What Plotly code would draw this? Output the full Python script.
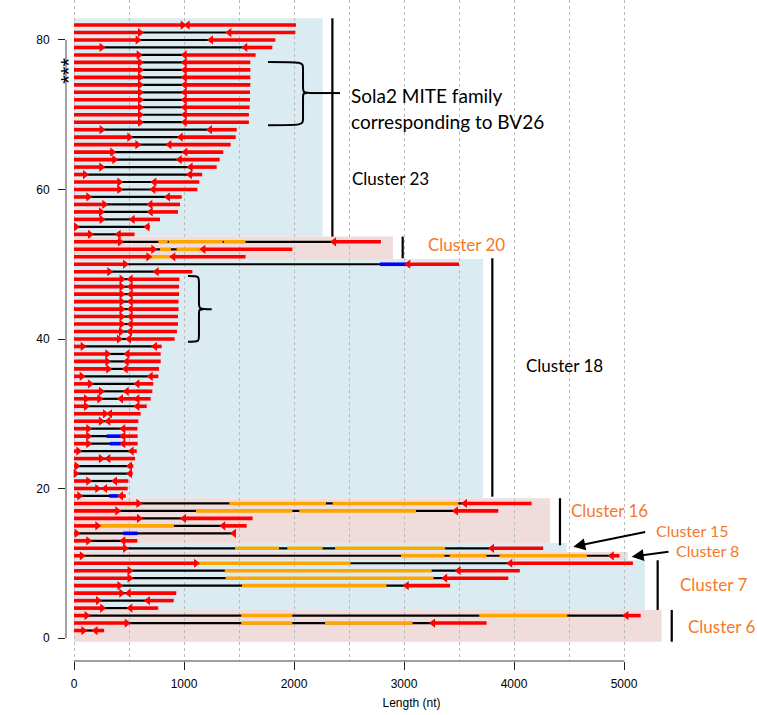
import plotly.graph_objects as go

# ---- element rows: (row, end of left TIR, start of right TIR, total length) ----
row_ids = [82, 81, 80, 79, 78, 77, 76, 75, 74, 73, 72, 71, 70, 69, 68, 67, 66, 65, 64, 63,
           62, 61, 60, 59, 58, 57, 56, 55, 54, 53, 52, 51, 50, 49, 48, 47, 46, 45, 44, 43,
           42, 41, 40, 39, 38, 37, 36, 35, 34, 33, 32, 31, 30, 29, 28, 27, 26, 25, 24, 23,
           22, 21, 20, 19, 18, 17, 16, 15, 14, 13, 12, 11, 10, 9, 8, 7, 6, 5, 4, 3, 2, 1]
tir_left_end = [988, 600, 579, 251, 588, 600, 600, 600, 600, 600, 600, 600, 600, 600, 251, 503, 576, 348, 367, 248,
                100, 412, 412, 130, 276, 245, 251, 18, 145, 418, 721, 676, 464, 321, 433, 433, 433, 433, 433, 433,
                433, 427, 409, 79, 303, 303, 312, 70, 145, 245, 230, 109, 282, 245, 130, 130, 130, 39, 245, 24,
                15, 130, 212, 48, 585, 394, 591, 212, 24, 130, 464, 71, 1109, 505, 505, 413, 430, 218, 256, 114, 479, 85]
tir_right_start = [1033, 1412, 1245, 1557, 1006, 1006, 1006, 1006, 1006, 1006, 1006, 1006, 1006, 1006, 1236, 970, 867, 1012, 961, 1060,
                   1054, 730, 721, 854, 694, 697, 533, 667, 406, 2364, 1176, 903, 3039, 751, 515, 515, 515, 515, 515, 515,
                   515, 509, 500, 736, 485, 479, 470, 697, 576, 479, 427, 576, 327, 312, 448, 448, 448, 524, 312, 509,
                   509, 373, 282, 427, 3554, 3472, 1000, 1357, 1454, 448, 3800, 4889, 3966, 3496, 3374, 3025, 497, 672, 512, 5022, 3264, 196]
element_length = [2018, 2012, 1830, 1803, 1651, 1603, 1603, 1603, 1603, 1600, 1600, 1597, 1590, 1590, 1479, 1470, 1424, 1357, 1324, 1297,
                  1165, 1139, 1121, 979, 964, 945, 782, 690, 551, 2790, 1985, 1560, 3500, 1076, 958, 955, 955, 950, 950, 945,
                  945, 936, 915, 797, 788, 788, 773, 767, 721, 712, 697, 661, 606, 585, 576, 579, 579, 570, 555, 539,
                  533, 494, 488, 470, 4160, 3857, 1624, 1570, 1470, 576, 4265, 4959, 5081, 4053, 3948, 3419, 930, 906, 765, 5152, 3751, 274]

# extra TIR-like arrowheads inside one element
extra_right_arrows = [(32, 109)]
extra_left_arrows = [(32, 576)]

# ---- internal coding segments: (row, start, end) ----
orange_segments = [(53, 767, 852), (53, 862, 1352), (53, 1362, 1560),
                   (52, 782, 882), (52, 933, 1200), (51, 691, 873),
                   (18, 1412, 2291), (18, 2351, 3494), (17, 1109, 1985), (17, 2048, 3109),
                   (15, 236, 909),
                   (12, 1464, 1864), (12, 1939, 2260), (12, 2373, 3374),
                   (11, 2973, 3367), (11, 3416, 3750), (11, 3869, 4663),
                   (10, 1109, 2513), (9, 1371, 3252), (8, 1378, 3269), (7, 1527, 2841),
                   (3, 1520, 1985), (3, 3684, 4484), (2, 1520, 1985), (2, 2282, 3078)]
blue_segments = [(50, 2782, 3039), (27, 297, 448), (26, 327, 427), (19, 321, 403), (14, 448, 576)]
faint_segments = [(33, 564, 670)]

# ---- cluster blocks: name, first row-edge, last row-edge, extent, label colour ----
cluster_names = ["Cluster 23", "Cluster 20", "Cluster 18", "Cluster 16", "Cluster 15", "Cluster 8", "Cluster 7", "Cluster 6"]
cluster_y0 = [53.7, 50.7, 18.7, 12.7, 11.5, 10.4, 3.75, -0.5]
cluster_y1 = [82.9, 53.7, 50.7, 18.7, 12.7, 11.5, 10.4, 3.75]
cluster_xmax = [2261, 2900, 3718, 4327, 4479, 5033, 5191, 5342]
cluster_fill = ["#DAEBF1", "#F1DCDC", "#DAEBF1", "#F1DCDC", "#DAEBF1", "#F1DCDC", "#DAEBF1", "#F1DCDC"]
cluster_bar_x = [2349, 2988, 3803, 4418, None, None, 5306, 5434]
cluster_bar_y0 = [53.7, 50.8, 18.9, 12.4, None, None, 3.75, -0.5]
cluster_bar_y1 = [82.9, 53.7, 50.8, 18.7, None, None, 10.4, 3.75]
label_x = [2518, 3209, 4100, 4509, 5282, 5464, 5500, 5573]
label_y = [61.5, 52.7, 36.4, 17.1, 14.35, 11.65, 7.2, 1.5]
label_size = [17, 17, 17, 17, 16, 16, 17, 17]
label_color = ["black", "#F5792A", "black", "#F5792A", "#F5792A", "#F5792A", "#F5792A", "#F5792A"]

x_major_ticks = [0, 1000, 2000, 3000, 4000, 5000]
x_minor_ticks = [500, 1500, 2500, 3500, 4500]
y_ticks = [0, 20, 40, 60, 80]

RED = "#FF0000"
BLACK = "#000000"
ORANGE = "#FFA500"
BLUE = "#0000FF"


def seg_xy(pairs):
    xs, ys = [], []
    for r, a, b in pairs:
        xs += [a, b, None]
        ys += [r, r, None]
    return xs, ys


red_pairs, black_pairs = [], []
for r, a, b, L in zip(row_ids, tir_left_end, tir_right_start, element_length):
    red_pairs.append((r, 0, a))
    black_pairs.append((r, a, b))
    red_pairs.append((r, b, L))

fig = go.Figure()

bx, by = seg_xy(black_pairs)
fig.add_trace(go.Scatter(x=bx, y=by, mode="lines", line=dict(color=BLACK, width=2.2),
                         hoverinfo="skip", showlegend=False))
ox, oy = seg_xy(orange_segments)
fig.add_trace(go.Scatter(x=ox, y=oy, mode="lines", line=dict(color=ORANGE, width=3.6),
                         hoverinfo="skip", showlegend=False))
ux, uy = seg_xy(blue_segments)
fig.add_trace(go.Scatter(x=ux, y=uy, mode="lines", line=dict(color=BLUE, width=3.6),
                         hoverinfo="skip", showlegend=False))
fx, fy = seg_xy(faint_segments)
fig.add_trace(go.Scatter(x=fx, y=fy, mode="lines", line=dict(color="rgba(190,90,200,0.45)", width=4),
                         hoverinfo="skip", showlegend=False))
rx, ry = seg_xy(red_pairs)
fig.add_trace(go.Scatter(x=rx, y=ry, mode="lines", line=dict(color=RED, width=3.6),
                         hoverinfo="skip", showlegend=False))

# TIR arrowheads
rax = list(tir_left_end) + [a for _, a in extra_right_arrows]
ray = list(row_ids) + [r for r, _ in extra_right_arrows]
fig.add_trace(go.Scatter(x=rax, y=ray, mode="markers",
                         marker=dict(symbol="triangle-right", size=8, color=RED, line=dict(width=0)),
                         hoverinfo="skip", showlegend=False))
lax = list(tir_right_start) + [a for _, a in extra_left_arrows]
lay = list(row_ids) + [r for r, _ in extra_left_arrows]
fig.add_trace(go.Scatter(x=lax, y=lay, mode="markers",
                         marker=dict(symbol="triangle-left", size=8, color=RED, line=dict(width=0)),
                         hoverinfo="skip", showlegend=False))

shapes = []
for y0, y1, xm, fill in zip(cluster_y0, cluster_y1, cluster_xmax, cluster_fill):
    shapes.append(dict(type="rect", xref="x", yref="y", x0=0, x1=xm, y0=y0, y1=y1,
                       fillcolor=fill, line=dict(width=0), layer="below"))
for bxv, y0, y1 in zip(cluster_bar_x, cluster_bar_y0, cluster_bar_y1):
    if bxv is None:
        continue
    shapes.append(dict(type="line", xref="x", yref="y", x0=bxv, x1=bxv, y0=y0, y1=y1,
                       line=dict(color="black", width=2.2)))


def brace(x0, xv, xt, yt, yb, ym, d):
    return (f"M {x0},{yt} C {xv},{yt} {xv},{yt} {xv},{yt - d} "
            f"L {xv},{ym + d} C {xv},{ym} {xv},{ym} {xt},{ym} "
            f"M {xv + (xt - xv) * 0.35},{ym} C {xv},{ym} {xv},{ym} {xv},{ym - d} "
            f"L {xv},{yb + d} C {xv},{yb} {xv},{yb} {x0},{yb}")


shapes.append(dict(type="path", xref="x", yref="y",
                   path=brace(1764, 2082, 2180, 77.06, 68.6, 72.9, 0.9),
                   line=dict(color="black", width=2)))
shapes.append(dict(type="line", xref="x", yref="y", x0=2150, x1=2418, y0=72.9, y1=72.9,
                   line=dict(color="black", width=2)))
shapes.append(dict(type="path", xref="x", yref="y",
                   path=brace(1036, 1136, 1252, 48.43, 39.64, 43.97, 0.9),
                   line=dict(color="black", width=2)))

# axis lines spanning only the labelled ranges
shapes.append(dict(type="line", xref="x", yref="paper", x0=x_major_ticks[0], x1=x_major_ticks[-1],
                   y0=0, y1=0, line=dict(color="#444444", width=1)))
shapes.append(dict(type="line", xref="paper", yref="y", x0=0, x1=0, y0=y_ticks[0], y1=y_ticks[-1],
                   line=dict(color="#444444", width=1)))

annotations = []
for name, lx, ly, ls, lc in zip(cluster_names, label_x, label_y, label_size, label_color):
    annotations.append(dict(x=lx, y=ly, xref="x", yref="y", text=name, showarrow=False,
                            xanchor="left", yanchor="middle", borderpad=0,
                            font=dict(family="Lato", size=ls, color=lc)))
annotations.append(dict(x=2500, y=72.64, xref="x", yref="y", text="Sola2 MITE family", showarrow=False,
                        xanchor="left", yanchor="middle", font=dict(family="Lato", size=19, color="black")))
annotations.append(dict(x=2500, y=69.07, xref="x", yref="y", text="corresponding to BV26", showarrow=False,
                        xanchor="left", yanchor="middle", font=dict(family="Lato", size=19, color="black")))
annotations.append(dict(x=-45, y=75.9, xref="x", yref="y", text="***", showarrow=False, textangle=-90,
                        xanchor="center", yanchor="middle", font=dict(family="Liberation Sans", size=22, color="black")))
# pointers to the single-element clusters
annotations.append(dict(x=4539, y=12.21, ax=5206, ay=14.22, xref="x", yref="y", axref="x", ayref="y",
                        text="", showarrow=True, arrowhead=2, arrowsize=1.2, arrowwidth=2, arrowcolor="black"))
annotations.append(dict(x=5070, y=10.88, ax=5418, ay=11.55, xref="x", yref="y", axref="x", ayref="y",
                        text="", showarrow=True, arrowhead=2, arrowsize=1.2, arrowwidth=2, arrowcolor="black"))

fig.update_layout(
    width=757, height=715,
    margin=dict(l=66, r=0, t=0, b=54),
    paper_bgcolor="white", plot_bgcolor="white",
    shapes=shapes, annotations=annotations,
    xaxis=dict(range=[-72.73, 6209.1], tickmode="array", tickvals=x_major_ticks,
               ticks="outside", ticklen=8, tickcolor="#222222", showline=False, zeroline=False,
               showgrid=True, gridcolor="#BBBBBB", griddash="3px,3px", gridwidth=1,
               minor=dict(tickmode="array", tickvals=x_minor_ticks, showgrid=True,
                          gridcolor="#BBBBBB", griddash="3px,3px", ticks=""),
               ticklabelstandoff=4,
               tickfont=dict(family="Liberation Sans", size=12, color="black"),
               title=dict(text="Length (nt)", font=dict(family="Liberation Sans", size=12, color="black"),
                          standoff=8)),
    yaxis=dict(range=[-3.077, 85.35], tickmode="array", tickvals=y_ticks,
               ticks="outside", ticklen=7, tickcolor="#222222", showline=False, zeroline=False,
               showgrid=False, ticklabelstandoff=6,
               tickfont=dict(family="Liberation Sans", size=12, color="black")),
)

fig.write_html("out.html")
